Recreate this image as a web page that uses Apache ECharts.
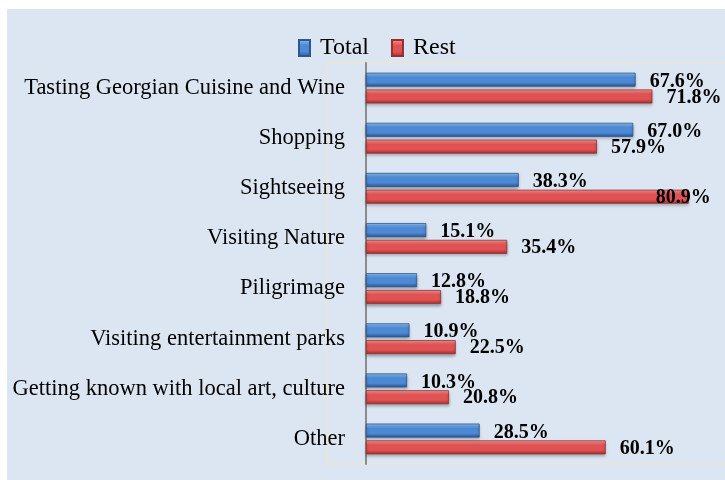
<!DOCTYPE html>
<html>
<head>
<meta charset="utf-8">
<script src="https://cdn.jsdelivr.net/npm/echarts@6/dist/echarts.min.js"></script>
<style>
  html, body { margin: 0; padding: 0; background: #ffffff; }
  #chart { position: absolute; left: 7px; top: 9px; width: 718px; height: 471px; background: #dce6f2; }
</style>
</head>
<body>
<div id="chart"></div>
<script>
var categories = [
    'Tasting Georgian Cuisine and Wine',
    'Shopping',
    'Sightseeing',
    'Visiting Nature',
    'Piligrimage',
    'Visiting entertainment parks',
    'Getting known with local art, culture',
    'Other'
];
var seriesNames = ['Total', 'Rest'];
var totalValues = [67.6, 67.0, 38.3, 15.1, 12.8, 10.9, 10.3, 28.5];
var restValues = [71.8, 57.9, 80.9, 35.4, 18.8, 22.5, 20.8, 60.1];

var serif = 'Liberation Serif';

function barGradient(light, mid, dark) {
    return new echarts.graphic.LinearGradient(0, 0, 0, 1, [
        { offset: 0, color: light },
        { offset: 0.35, color: mid },
        { offset: 0.7, color: mid },
        { offset: 1, color: dark }
    ]);
}
var blueFill = barGradient('#8ec0f3', '#4d8ad6', '#26548f');
var redFill = barGradient('#f79a9a', '#e25252', '#9c2f2f');

// labels that would run off the right edge are pulled back onto the bar
function withLabels(values, dy) {
    return values.map(function (v) {
        if (v > 75) {
            return { value: v, label: { position: 'insideRight', offset: [36, dy] } };
        }
        return v;
    });
}

var valueLabel = function (dy) {
    return {
        show: true,
        position: 'right',
        distance: 14,
        offset: [0, dy],
        color: '#000',
        fontFamily: serif,
        fontWeight: 'bold',
        fontSize: 20,
        formatter: function (p) { return p.value.toFixed(1) + '%'; }
    };
};

var myChart = echarts.init(document.getElementById('chart'));
option = {
    animation: false,
    textStyle: { fontFamily: serif },
    graphic: [{
        type: 'rect',
        z: -1,
        shape: { x: 320, y: 54, width: 420, height: 401 },
        style: { fill: 'none', stroke: '#ebe6d3', lineWidth: 1.5 }
    }],
    legend: {
        left: 286,
        top: 22,
        icon: 'rect',
        itemWidth: 11,
        itemHeight: 16,
        itemGap: 22,
        formatter: function (name) { return '{t|' + name + '}'; },
        textStyle: {
            color: '#000',
            rich: { t: { fontFamily: serif, fontSize: 24, color: '#000', padding: [0, 0, 0, 5] } }
        },
        data: [
            { name: seriesNames[0], itemStyle: { color: blueFill } },
            { name: seriesNames[1], itemStyle: { color: redFill } }
        ]
    },
    grid: {
        left: 359,
        right: -3,
        top: 54,
        bottom: 16,
        containLabel: false
    },
    xAxis: {
        type: 'value',
        min: 0,
        max: 90,
        show: false,
        splitLine: { show: false }
    },
    yAxis: {
        type: 'category',
        inverse: true,
        data: categories,
        axisLine: { show: true, lineStyle: { color: '#8c8c8c', width: 2 } },
        axisTick: { show: false },
        axisLabel: { margin: 21, color: '#000', fontFamily: serif, fontSize: 22.5 }
    },
    series: [
        {
            name: seriesNames[0],
            type: 'bar',
            barWidth: 14,
            barGap: '20%',
            data: withLabels(totalValues, 2),
            label: valueLabel(2),
            itemStyle: {
                color: blueFill,
                borderColor: '#2c578f',
                borderWidth: 0.8,
                shadowColor: 'rgba(0,0,0,0.3)',
                shadowBlur: 3,
                shadowOffsetY: 2
            }
        },
        {
            name: seriesNames[1],
            type: 'bar',
            barWidth: 14,
            data: withLabels(restValues, 1),
            label: valueLabel(1),
            itemStyle: {
                color: redFill,
                borderColor: '#953030',
                borderWidth: 0.8,
                shadowColor: 'rgba(0,0,0,0.3)',
                shadowBlur: 3,
                shadowOffsetY: 2
            }
        }
    ]
};
myChart.setOption(option);
</script>
</body>
</html>
